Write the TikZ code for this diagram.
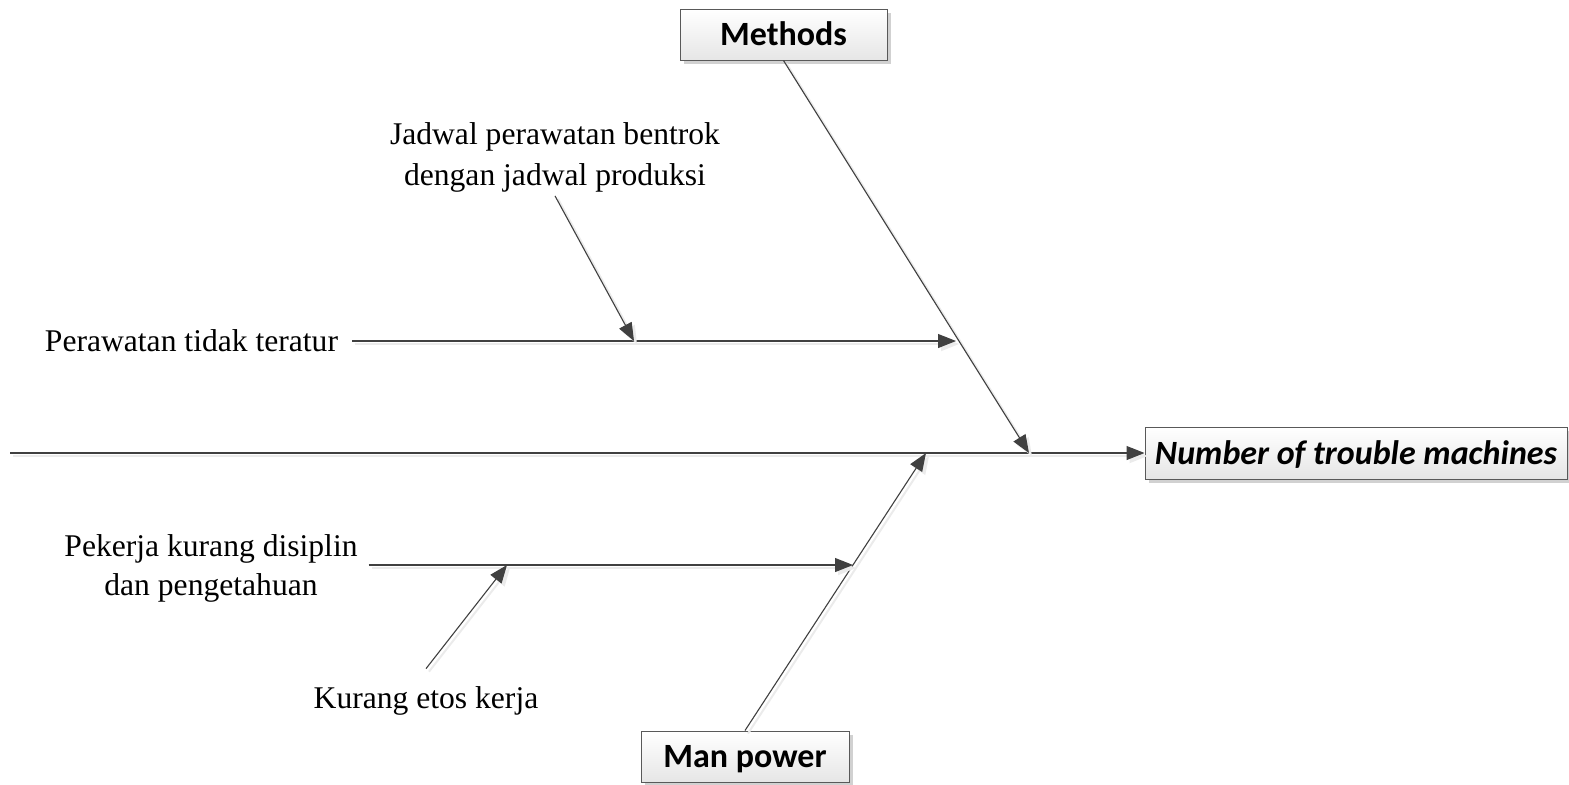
\documentclass[tikz,border=0pt]{standalone}
\usepackage{fontspec}
\setmainfont{Liberation Serif}
\newfontfamily\calfont{Carlito}
\usetikzlibrary{arrows.meta,shadows}

\tikzset{
  bonebox/.style={draw=black!65, line width=0.5pt, top color=white, bottom color=black!10,
    inner sep=0pt, text height=11pt, text depth=0pt,
    font=\calfont\bfseries\fontsize{17}{20}\selectfont,
    drop shadow={shadow xshift=2pt, shadow yshift=-2pt, fill=black!18, opacity=1}},
  cause/.style={font=\fontsize{15.8}{19.5}\selectfont, align=center, inner sep=0pt},
  bone/.style={draw=black!75, line width=0.55pt, -{Triangle[length=9pt,width=7pt]},
    preaction={draw=black!8, line width=1pt, -{Triangle[length=9pt,width=7pt]},
      transform canvas={shift={(1.5pt,-1.5pt)}}}}
}

\begin{document}
\begin{tikzpicture}[x=0.5pt,y=-0.5pt]
\useasboundingbox (0,0) rectangle (1569,784);

% category boxes and effect
\node[bonebox, minimum width=103.5pt, minimum height=25.5pt] (methods) at (783.5,34.5) {Methods};
\node[bonebox, minimum width=104pt, minimum height=25.5pt] (man) at (745,756.5) {Man power};
\node[bonebox, minimum width=211pt, minimum height=26pt,
      font=\calfont\bfseries\itshape\fontsize{17}{20}\selectfont] (effect) at (1356,453) {Number of trouble machines};

% spine
\coordinate (spineL) at (10,453);
\draw[bone] (spineL) -- (effect.west);

% main bones
\coordinate (mhead) at (1029,453);
\coordinate (phead) at (926,453);
\draw[bone] (methods.south) -- (mhead);
\draw[bone] (man.north) -- (phead);

% causes under Methods
\node[cause, anchor=east, outer xsep=7pt] (perawatan) at (352,341) {Perawatan tidak teratur};
\coordinate (prhead) at (956,341);
\draw[bone] (perawatan.east) -- (prhead);

\node[cause, outer sep=2pt, font=\fontsize{15.8}{20.5}\selectfont] (jadwal) at (555,157) {Jadwal perawatan bentrok\\dengan jadwal produksi};
\coordinate (jhead) at (634,341);
\draw[bone] (jadwal.south) -- (jhead);

% causes under Man power
\node[cause, outer xsep=5.5pt] (pekerja) at (211,568) {Pekerja kurang disiplin\\dan pengetahuan};
\coordinate (pkhead) at (853,565);
\draw[bone] (pekerja.east |- pkhead) -- (pkhead);

\node[cause, outer sep=9pt] (kurang) at (426,701) {Kurang etos kerja};
\coordinate (khead) at (507,565);
\draw[bone] (kurang.north) -- (khead);
\end{tikzpicture}
\end{document}
